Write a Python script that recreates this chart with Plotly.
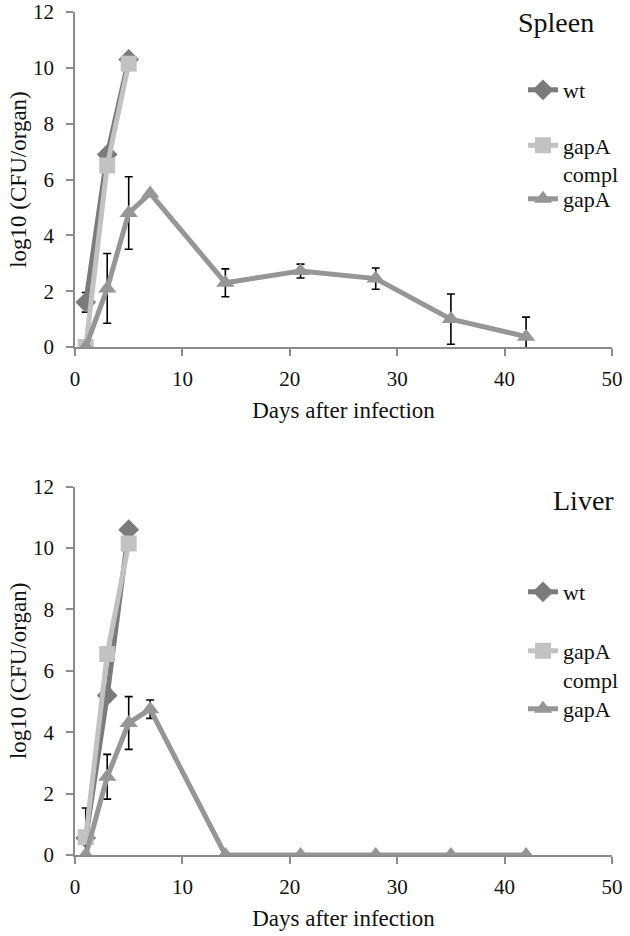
import plotly.graph_objects as go

days_wt = [1, 3, 5]
days_gapA = [1, 3, 5, 7, 14, 21, 28, 35, 42]

spleen_wt = [1.6, 6.9, 10.3]
spleen_wt_err = [0.35, 0.0, 0.0]
spleen_compl = [0.0, 6.5, 10.15]
spleen_compl_err = [0.0, 0.0, 0.0]
spleen_gapA = [0.0, 2.1, 4.8, 5.5, 2.3, 2.72, 2.45, 1.0, 0.37]
spleen_gapA_err = [0.0, 1.25, 1.3, 0.0, 0.5, 0.25, 0.38, 0.9, 0.7]

liver_wt = [0.55, 5.2, 10.6]
liver_wt_err = [0.0, 0.2, 0.0]
liver_compl = [0.58, 6.55, 10.15]
liver_compl_err = [0.95, 0.0, 0.0]
liver_gapA = [0.0, 2.55, 4.3, 4.75, 0.0, 0.0, 0.0, 0.0, 0.0]
liver_gapA_err = [0.0, 0.73, 0.86, 0.3, 0.0, 0.0, 0.0, 0.0, 0.0]

names = ["wt", "gapA<br>compl", "gapA"]
colors = ["#7b7b7b", "#c2c2c2", "#969696"]
symbols = ["diamond", "square", "triangle-up"]

FONT = "Liberation Serif"
W, H = 630, 936
PLOT_LEFT, PLOT_RIGHT, PLOT_TOP, PLOT_BOTTOM = 75, 612, 12, 855  # screen px
L = PLOT_LEFT
R = W - PLOT_RIGHT
T = PLOT_TOP
B = H - PLOT_BOTTOM
PW, PH = W - L - R, H - T - B

def px(xs):
    return (xs - L) / PW

def py(ys):
    return (H - B - ys) / PH

fig = go.Figure()

def add_panel(xs_list, ys_list, errs_list, xa, ya, legends):
    for i in range(3):
        fig.add_trace(go.Scatter(
            x=xs_list[i], y=ys_list[i], name=names[i],
            mode="lines+markers",
            line=dict(color=colors[i], width=5),
            marker=dict(symbol=symbols[i], size=16, color=colors[i]),
            error_y=dict(type="data", array=errs_list[i], visible=True,
                         color="black", thickness=1.6, width=4),
            xaxis=xa, yaxis=ya, legend=legends[i],
        ))

add_panel([days_wt, days_wt, days_gapA], [spleen_wt, spleen_compl, spleen_gapA],
          [spleen_wt_err, spleen_compl_err, spleen_gapA_err], "x", "y",
          ["legend", "legend2", "legend3"])
add_panel([days_wt, days_wt, days_gapA], [liver_wt, liver_compl, liver_gapA],
          [liver_wt_err, liver_compl_err, liver_gapA_err], "x2", "y2",
          ["legend4", "legend5", "legend6"])

axis_common = dict(showline=True, linecolor="#8c8c8c", linewidth=1.5,
                   ticks="outside", ticklen=7, tickcolor="#8c8c8c", tickwidth=1.5,
                   showgrid=False, zeroline=False, automargin=False,
                   ticklabeloverflow="allow",
                   tickfont=dict(family=FONT, size=21, color="#111"))

xcommon = dict(axis_common, range=[0, 50], dtick=10, tick0=0, ticklabelstandoff=5,
               title=dict(text="Days after infection",
                          font=dict(family=FONT, size=23, color="#111"), standoff=12))
ycommon = dict(axis_common, range=[0, 12], dtick=2, tick0=0, ticklabelstandoff=8,
               title=dict(text="log10 (CFU/organ)",
                          font=dict(family=FONT, size=23, color="#111"), standoff=0))

legend_common = dict(font=dict(family=FONT, size=22, color="#111"), bgcolor="rgba(0,0,0,0)",
                     xanchor="left", yanchor="middle", valign="top", itemwidth=30)

legend_x = px(523)
legend_ys = [py(90), py(160), py(199), py(592), py(665.5), py(709)]

fig.update_layout(
    width=W, height=H,
    margin=dict(l=L, r=R, t=T, b=B, autoexpand=False),
    plot_bgcolor="white", paper_bgcolor="white",
    showlegend=True,
    xaxis=dict(xcommon, domain=[0, 1], anchor="y"),
    yaxis=dict(ycommon, domain=[py(347), 1], anchor="x"),
    xaxis2=dict(xcommon, domain=[0, 1], anchor="y2"),
    yaxis2=dict(ycommon, domain=[0, py(486.7)], anchor="x2"),
    legend=dict(legend_common, x=legend_x, y=legend_ys[0]),
    legend2=dict(legend_common, x=legend_x, y=legend_ys[1]),
    legend3=dict(legend_common, x=legend_x, y=legend_ys[2]),
    legend4=dict(legend_common, x=legend_x, y=legend_ys[3]),
    legend5=dict(legend_common, x=legend_x, y=legend_ys[4]),
    legend6=dict(legend_common, x=legend_x, y=legend_ys[5]),
    annotations=[
        dict(text="Spleen", x=px(556), y=py(23), xref="paper", yref="paper", showarrow=False,
             xanchor="center", yanchor="middle",
             font=dict(family=FONT, size=28, color="#111")),
        dict(text="Liver", x=px(583), y=py(500), xref="paper", yref="paper", showarrow=False,
             xanchor="center", yanchor="middle",
             font=dict(family=FONT, size=28, color="#111")),
    ],
)

fig.write_html("out.html", config={"displayModeBar": False},
               post_script="document.body.style.margin='0';document.body.style.overflow='hidden';")
